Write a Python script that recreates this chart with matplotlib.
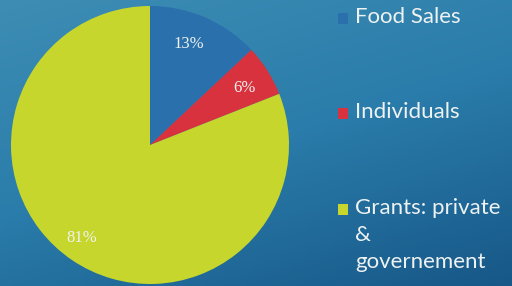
import numpy as np
import matplotlib
matplotlib.use('Agg')
import matplotlib.pyplot as plt
from matplotlib.patches import Rectangle
from matplotlib.colors import LinearSegmentedColormap

# Data
categories = ['Food Sales', 'Individuals', 'Grants: private\n&\ngovernement']
shares = [13, 6, 81]
pct_labels = ['13%', '6%', '81%']
colors = ['#2a70ac', '#d8323e', '#c6d62c']

plt.rcParams['font.family'] = ['Lato', 'DejaVu Sans']

W, H = 512, 286
fig = plt.figure(figsize=(W / 100, H / 100), dpi=100)

# background gradient (lighter top-left, darker bottom-right)
bg = fig.add_axes([0, 0, 1, 1])
yy, xx = np.mgrid[0:1:200j, 0:1:360j]
grad = 0.65 * yy + 0.35 * xx
cmap = LinearSegmentedColormap.from_list('bg', ['#3d8db4', '#2a7caa', '#175888'])
bg.imshow(grad, cmap=cmap, aspect='auto', extent=[0, 1, 0, 1], origin='upper')
bg.set_xlim(0, 1)
bg.set_ylim(0, 1)
bg.axis('off')

# pie
cx, cy, r = 150, 145, 139
ax = fig.add_axes([(cx - r) / W, (H - cy - r) / H, 2 * r / W, 2 * r / H])
wedges, texts = ax.pie(shares, colors=colors, startangle=90, counterclock=False,
                       radius=1.0, wedgeprops=dict(linewidth=0))
ax.set_xlim(-1, 1)
ax.set_ylim(-1, 1)
ax.axis('off')

label_pos = [(0.28, 0.73), (0.68, 0.41), (-0.49, -0.67)]
for (x, y), t in zip(label_pos, pct_labels):
    ax.text(x, y, t, ha='center', va='center', color='#eef3f0', fontsize=12,
            family=['Liberation Serif', 'DejaVu Serif'])

# legend
leg_y = [18, 113, 209]
for yv, lab, col in zip(leg_y, categories, colors):
    fig.patches.append(Rectangle((338 / W, 1 - (yv + 6) / H), 10 / W, 11 / H,
                                 transform=fig.transFigure, facecolor=col,
                                 edgecolor='none'))
    fig.text(355 / W, 1 - (yv - 11) / H, lab, ha='left', va='top', color='#eef2f2',
             fontsize=16, linespacing=1.45)

fig.savefig('out.png', dpi=100)
